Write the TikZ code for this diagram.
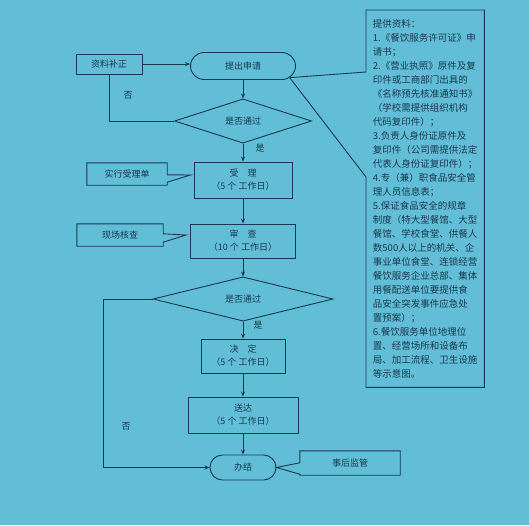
\documentclass[tikz,border=0pt]{standalone}
\usepackage{fontspec}
\setmainfont{Noto Sans CJK SC}
\usetikzlibrary{shapes.geometric,shapes.misc,calc,arrows.meta}

\definecolor{bgblue}{RGB}{98,190,214}
\definecolor{inkblue}{RGB}{24,56,80}

\tikzset{
  box/.style={draw=inkblue,line width=0.9pt,rectangle,inner sep=0pt,
    align=center,text=inkblue,font=\fontsize{9}{13}\selectfont},
  stad/.style={box,rounded rectangle},
  judge/.style={box,diamond},
  note/.style={inner sep=0pt,align=center,text=inkblue,
    font=\fontsize{9}{13}\selectfont},
  flow/.style={draw=inkblue,line width=0.9pt,-{Stealth[length=5pt,width=4pt]}},
  link/.style={draw=inkblue,line width=0.9pt},
}

\begin{document}
\begin{tikzpicture}[x=1pt,y=-1pt]
\fill[bgblue] (0,0) rectangle (529,525);

% main flow
\node[box,minimum width=66pt,minimum height=20pt] (bzzz) at (109,64) {资料补正};
\node[stad,minimum width=105pt,minimum height=27pt] (tcsq) at (243,66) {提出申请};
\node[judge,minimum width=137pt,minimum height=31pt] (pd1) at (243,121) {是否通过};
\node[box,minimum width=98pt,minimum height=36pt] (shouli) at (243,180) {受　理\\（5 个 工作日）};
\node[box,minimum width=105pt,minimum height=34pt] (shencha) at (243,241) {审　查\\（10 个 工作日）};
\node[judge,minimum width=180pt,minimum height=30pt] (pd2) at (243,299) {是否通过};
\node[box,minimum width=84pt,minimum height=34pt] (jueding) at (243,356) {决　定\\（5 个 工作日）};
\node[box,minimum width=110pt,minimum height=36pt] (songda) at (243,415) {送达\\（5 个 工作日）};
\node[stad,minimum width=66pt,minimum height=25pt] (banjie) at (243,467.5) {办结};

\draw[flow] (bzzz.east) -- (bzzz.east -| tcsq.west);
\draw[flow] (tcsq.south) -- (pd1.north);
\draw[flow] (pd1.south) -- (shouli.north);
\draw[flow] (shouli.south) -- (shencha.north);
\draw[flow] (shencha.south) -- (pd2.north);
\draw[flow] (pd2.south) -- (jueding.north);
\draw[flow] (jueding.south) -- (songda.north);
\draw[flow] (songda.south) -- (banjie.north);

% no-branches
\draw[link] (pd1.west) -| (bzzz.south);
\coordinate (c2) at (103,299);
\draw[flow] (pd2.west) -- (c2) |- (banjie.west);

\node[note] (fou1) at (128,95) {否};
\node[note] (shi1) at (260,148) {是};
\node[note] (shi2) at (258,325) {是};
\node[note] (fou2) at (126,426) {否};

% callouts
\node[note,minimum width=80pt,minimum height=22pt] (sxslsd) at (127,174) {实行受理单};
\coordinate (t1) at ($(shouli.west)+(-3,-5)$);
\draw[link] (sxslsd.north west) -- (sxslsd.north east) -- ++(0,12) -- (t1)
  -- ($(sxslsd.south east)+(0,-3)$) -- (sxslsd.south east) -- (sxslsd.south west) -- cycle;

\node[note,minimum width=86pt,minimum height=22pt] (xchc) at (120,235) {现场核查};
\coordinate (t2) at ($(shencha.west)+(-4,-6)$);
\draw[link] (xchc.north west) -- (xchc.north east) -- ++(0,10) -- (t2)
  -- ($(xchc.south east)+(0,-4)$) -- (xchc.south east) -- (xchc.south west) -- cycle;

\node[note,minimum width=100pt,minimum height=24pt] (shjg) at (350,463) {事后监管};
\draw[link] (shjg.north west) -- (shjg.north east) -- (shjg.south east) -- (shjg.south west)
  -- ++(0,-1) -- (banjie.east) -- ($(shjg.north west)+(0,12)$) -- cycle;

% materials
\node[note,anchor=north west,align=left,inner xsep=5pt,inner ysep=0pt,minimum width=118pt,
  minimum height=377pt,font=\fontsize{9.5}{14}\selectfont] (tgzl) at (366,10) {%
提供资料：\\
1.《餐饮服务许可证》申\\
请书；\\
2.《营业执照》原件及复\\
印件或工商部门出具的\\
《名称预先核准通知书》\\
（学校需提供组织机构\\
代码复印件）；\\
3.负责人身份证原件及\\
复印件（公司需提供法定\\
代表人身份证复印件）；\\
4.专（兼）职食品安全管\\
理人员信息表；\\
5.保证食品安全的规章\\
制度（特大型餐馆、大型\\
餐馆、学校食堂、供餐人\\
数500人以上的机关、企\\
事业单位食堂、连锁经营\\
餐饮服务企业总部、集体\\
用餐配送单位要提供食\\
品安全突发事件应急处\\
置预案）；\\
6.餐饮服务单位地理位\\
置、经营场所和设备布\\
局、加工流程、卫生设施\\
等示意图。};
\draw[link] (tcsq.-14) -- ($(tgzl.north west)+(0,62)$) -- (tgzl.north west) -- (tgzl.north east)
  -- (tgzl.south east) -- (tgzl.south west) -- ($(tgzl.north west)+(0,167)$) -- (tcsq.-14);
\end{tikzpicture}
\end{document}
